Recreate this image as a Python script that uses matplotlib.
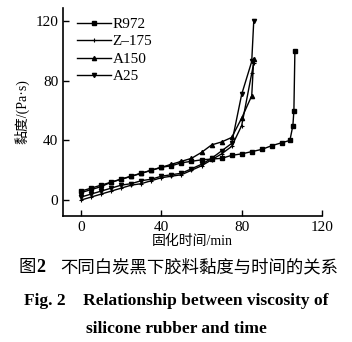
import matplotlib
matplotlib.use("Agg")
import matplotlib.pyplot as plt

# Viscosity vs curing time for different white carbon blacks
r972_t = [0, 5, 10, 15, 20, 25, 30, 35, 40, 45, 50, 55, 60, 65, 70, 75, 80, 85, 90, 95, 100, 104, 105.5, 106, 106.5]
r972_v = [6, 8, 10, 12, 14, 16, 18, 20, 22, 23, 25, 26, 27, 27.5, 28, 30, 31, 32.5, 34, 36.5, 38.5, 40, 50, 60, 100]

z175_t = [0, 5, 10, 15, 20, 25, 30, 35, 40, 45, 50, 55, 60, 65, 70, 75, 80, 85, 86]
z175_v = [0, 2, 4, 6, 8, 10, 11, 13, 15, 16, 17, 20, 23, 27, 31, 36, 50, 85, 92]

a150_t = [0, 5, 10, 15, 20, 25, 30, 35, 40, 45, 50, 55, 60, 65, 70, 75, 80, 85, 86]
a150_v = [5, 7, 9, 12, 14, 16, 18, 20, 22, 24, 26, 28, 32, 37, 39, 42, 55, 70, 95]

a25_t = [0, 5, 10, 15, 20, 25, 30, 35, 40, 45, 50, 55, 60, 65, 70, 75, 80, 85, 86]
a25_v = [2, 4, 6, 8, 10, 11, 13, 14, 16, 17, 18, 21, 24, 28, 33, 38, 71, 93, 120]

xticks = [0, 40, 80, 120]
yticks = [0, 40, 80, 120]

serif = ["Liberation Serif", "Noto Sans CJK SC"]
plt.rcParams["font.family"] = serif
plt.rcParams["axes.unicode_minus"] = False

fig = plt.figure(figsize=(3.52, 3.42), dpi=100)
ax = fig.add_axes([63 / 352, 1 - 216 / 342, 259 / 352, 208 / 342])

ax.plot(r972_t, r972_v, color="black", lw=1, marker="s", ms=3, label="R972")
ax.plot(z175_t, z175_v, color="black", lw=1, marker="+", ms=3, mew=0.8, label="Z\u2013175")
ax.plot(a150_t, a150_v, color="black", lw=1, marker="^", ms=3, label="A150")
ax.plot(a25_t, a25_v, color="black", lw=1, marker="v", ms=3, label="A25")

ax.set_xlim(-9, 120)
ax.set_ylim(-10.7, 128.9)
ax.set_xticks(xticks)
ax.set_yticks(yticks)
ax.spines["top"].set_visible(False)
ax.spines["right"].set_visible(False)
ax.tick_params(direction="in", length=4, width=1, labelsize=11, colors="black")
for sp in ("left", "bottom"):
    ax.spines[sp].set_linewidth(1.2)

ax.set_xlabel("固化时间/min", fontsize=10, labelpad=1)
ax.set_ylabel("黏度/(Pa·s)", fontsize=10, labelpad=4)

ax.legend(loc="upper left", bbox_to_anchor=(0.02, 1.0), frameon=False, fontsize=11,
          handlelength=2.2, handletextpad=0.1, labelspacing=0.25, borderaxespad=0.2)

# caption
cap_y = 1 - 268 / 342
fig.text(18 / 352, cap_y, "图", ha="left", va="center", fontsize=12.5)
fig.text(36 / 352, cap_y, "2", ha="left", va="center", fontsize=13, fontweight="bold")
fig.text(338 / 352, cap_y, "不同白炭黑下胶料黏度与时间的关系", ha="right", va="center",
         fontsize=12.5)
fig.text(0.5, 1 - 301 / 342, "Fig. 2    Relationship between viscosity of", ha="center", va="center",
         fontsize=12.5, fontweight="bold")
fig.text(0.5, 1 - 329 / 342, "silicone rubber and time", ha="center", va="center",
         fontsize=12.5, fontweight="bold")

fig.savefig("out.png", dpi=100)
